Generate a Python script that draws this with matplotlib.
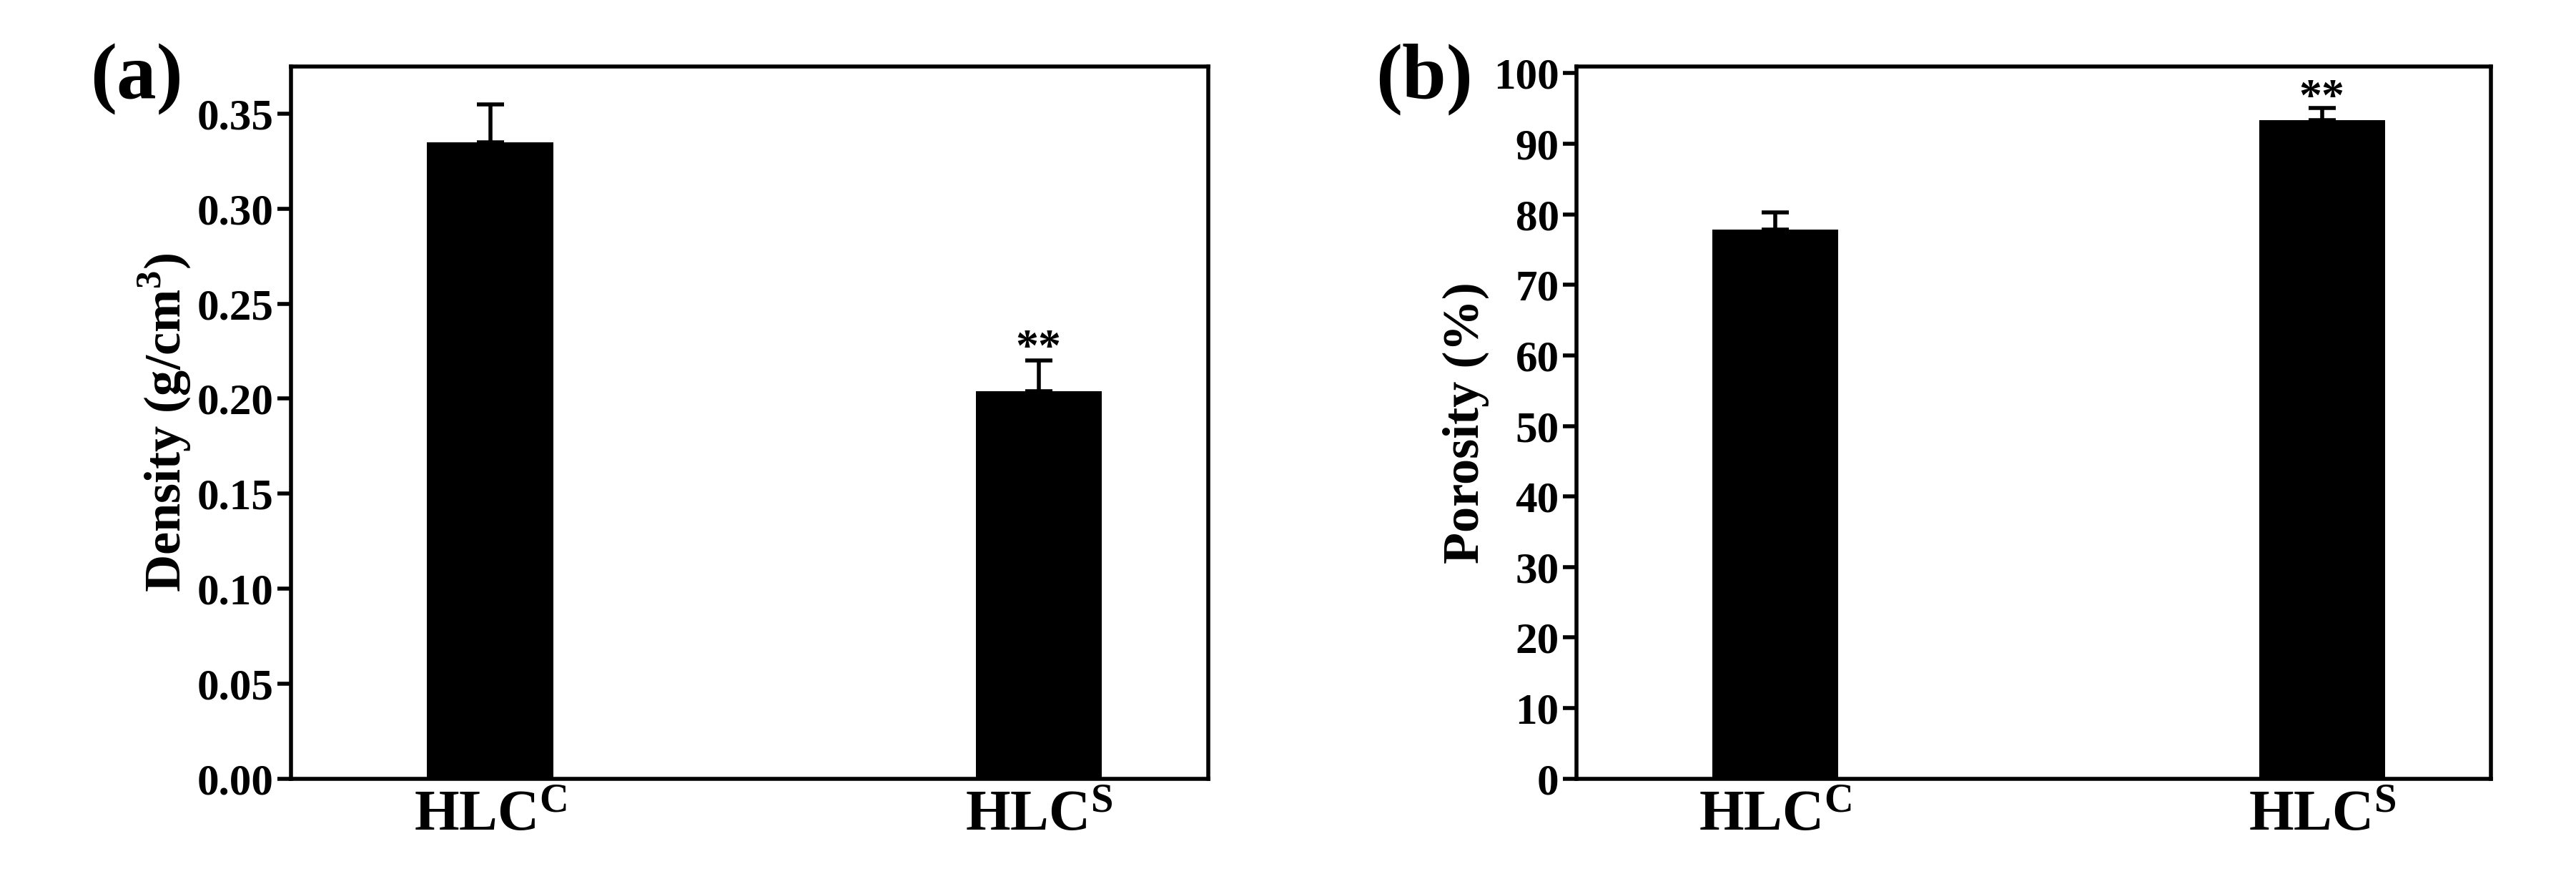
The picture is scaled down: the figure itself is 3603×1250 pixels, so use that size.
import matplotlib.pyplot as plt

plt.rcParams['font.family'] = 'Liberation Serif'
plt.rcParams['font.weight'] = 'bold'
plt.rcParams['axes.labelweight'] = 'bold'
plt.rcParams['mathtext.fontset'] = 'custom'
plt.rcParams['mathtext.rm'] = 'Liberation Serif:bold'
plt.rcParams['mathtext.bf'] = 'Liberation Serif:bold'

groups = ['$\\mathregular{HLC^{C}}$', '$\\mathregular{HLC^{S}}$']
density = [0.335, 0.204]
density_err = [0.020, 0.016]
porosity = [77.8, 93.3]
porosity_err = [2.5, 1.8]

fig = plt.figure(figsize=(36.03, 12.50), dpi=100)
ax1 = fig.add_axes([0.113, 0.129, 0.356, 0.797])
ax2 = fig.add_axes([0.612, 0.129, 0.355, 0.797])

def panel(ax, vals, errs, ylim, yticks, fmt, ylabel, star_off, letter):
    x = [1, 2]
    ax.bar(x, vals, width=0.23, color='black')
    ax.errorbar(x, vals, yerr=[[0, 0], errs], fmt='none', ecolor='black',
                elinewidth=4, capsize=14, capthick=4)
    ax.text(2, vals[1] + errs[1] + star_off, '**', ha='center', va='bottom', fontsize=46)
    ax.set_xlim(0.637, 2.309)
    ax.set_ylim(*ylim)
    ax.set_xticks(x)
    ax.set_xticklabels(groups, fontsize=58)
    ax.set_yticks(yticks)
    ax.set_yticklabels([fmt % t for t in yticks], fontsize=44)
    ax.set_ylabel(ylabel, fontsize=52, fontweight='bold')
    ax.tick_params(width=4, length=14, direction='out')
    ax.tick_params(axis='x', length=0, pad=12)
    for s in ax.spines.values():
        s.set_linewidth(4)
    fig.text(ax.get_position().x0 - 0.078, 0.89, letter, fontsize=80, fontweight='bold')

panel(ax1, density, density_err, (0, 0.375), [i * 0.05 for i in range(8)], '%.2f',
      'Density (g/cm$^{\\mathregular{3}}$)', -0.005, '(a)')
panel(ax2, porosity, porosity_err, (0, 101), list(range(0, 101, 10)), '%d',
      'Porosity (%)', -1.8, '(b)')

fig.savefig('out.png')
